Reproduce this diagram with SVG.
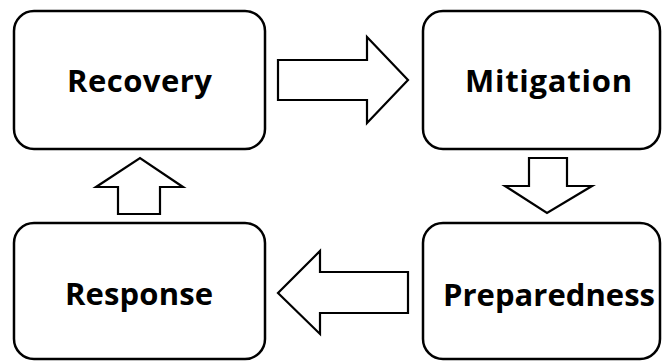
<svg xmlns="http://www.w3.org/2000/svg" width="662" height="361" viewBox="0 0 662 361">
<style>
.box{fill:#fff;stroke:#000;stroke-width:2.5}
.arr{fill:#fff;stroke:#000;stroke-width:2.2;stroke-linejoin:miter}
.lbl{font-family:"Open Sans","Noto Sans","DejaVu Sans",sans-serif;font-weight:bold;font-size:31px;fill:#000;text-anchor:middle}
</style>
<rect width="662" height="361" fill="#fff"/>
<g id="recovery"><rect class="box" x="14" y="11" width="251" height="138" rx="20"/><text class="lbl" x="139.5" y="92" textLength="145" lengthAdjust="spacing">Recovery</text></g>
<g id="mitigation"><rect class="box" x="423" y="11" width="237" height="138" rx="20"/><text class="lbl" x="548.5" y="92" textLength="167" lengthAdjust="spacing">Mitigation</text></g>
<g id="response"><rect class="box" x="14" y="223" width="251" height="136" rx="20"/><text class="lbl" x="139" y="305" textLength="148" lengthAdjust="spacing">Response</text></g>
<g id="preparedness"><rect class="box" x="423" y="223" width="237" height="136" rx="20"/><text class="lbl" x="549" y="306" textLength="212" lengthAdjust="spacing">Preparedness</text></g>
<g id="connectors">
<polygon class="arr" points="278,60 367,60 367,37 408,80 367,123 367,100 278,100"/>
<polygon class="arr" points="529,158 567,158 567,186 592,186 547,213 505,186 529,186"/>
<polygon class="arr" points="408,272 320,272 320,251 278,293 320,334 320,313 408,313"/>
<polygon class="arr" points="118,214 160,214 160,187 183,187 140,158 96,187 118,187"/>
</g>
</svg>
